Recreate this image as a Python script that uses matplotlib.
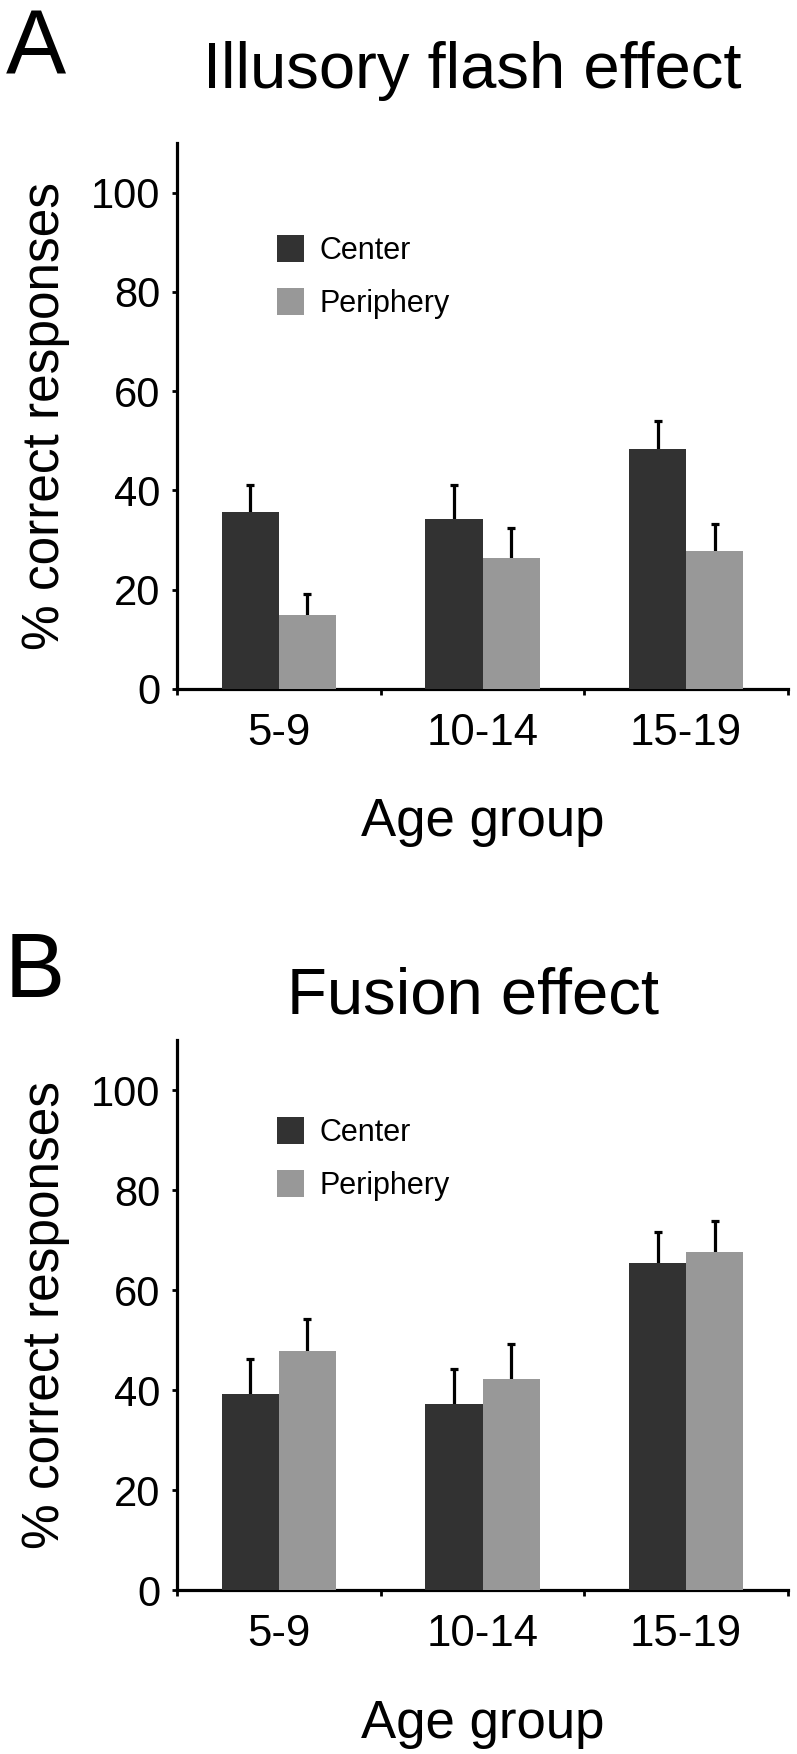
import numpy as np
import matplotlib
matplotlib.use('Agg')
import matplotlib.pyplot as plt

plt.rcParams['font.family'] = ['Liberation Sans', 'DejaVu Sans']

# data (percent correct, mean and upper error)
age_groups = ['5-9', '10-14', '15-19']
series_names = ['Center', 'Periphery']

flash_center = [35.7, 34.2, 48.4]
flash_center_err = [5.4, 6.9, 5.5]
flash_periph = [14.9, 26.3, 27.8]
flash_periph_err = [4.3, 6.2, 5.4]

fusion_center = [39.3, 37.3, 65.5]
fusion_center_err = [7.0, 6.9, 6.2]
fusion_periph = [47.9, 42.3, 67.6]
fusion_periph_err = [6.3, 6.9, 6.2]

DARK = '#323232'
GREY = '#989898'
W, H = 797, 1754


def draw_panel(ax, center, center_err, periph, periph_err, legend_xy):
    x = np.arange(len(age_groups))
    w = 0.28
    b1 = ax.bar(x - w / 2, center, w, color=DARK, linewidth=0, zorder=3)
    b2 = ax.bar(x + w / 2, periph, w, color=GREY, linewidth=0, zorder=3)
    # symmetric errors drawn under the bars -> only the upper half shows
    ax.errorbar(x - w / 2, center, yerr=center_err, fmt='none', ecolor='black',
                elinewidth=2.3, capsize=3, capthick=2.3, zorder=2)
    ax.errorbar(x + w / 2, periph, yerr=periph_err, fmt='none', ecolor='black',
                elinewidth=2.3, capsize=3, capthick=2.3, zorder=2)

    ax.set_xlim(-0.5, 2.5)
    ax.set_ylim(0, 110)
    ax.set_yticks(range(0, 101, 20))
    ax.set_xticks(x)
    ax.set_xticklabels(age_groups)
    ax.set_xticks([-0.5, 0.5, 1.5, 2.5], minor=True)
    ax.tick_params(axis='x', which='major', length=0, pad=17, labelsize=31.5)
    ax.tick_params(axis='x', which='minor', length=4, width=2, direction='out')
    ax.tick_params(axis='y', length=3.6, width=2, pad=8.5, labelsize=30)

    for s in ['top', 'right']:
        ax.spines[s].set_visible(False)
    for s in ['left', 'bottom']:
        ax.spines[s].set_linewidth(2.3)

    ax.set_ylabel('% correct responses', fontsize=37)
    ax.yaxis.set_label_coords(-0.175, 0.5)
    ax.set_xlabel('Age group', fontsize=38)
    ax.xaxis.set_label_coords(0.5, -0.198)

    ax.legend([b1, b2], series_names, loc='upper left', bbox_to_anchor=legend_xy,
              frameon=False, fontsize=22, handlelength=0.88, handleheight=0.98,
              handletextpad=0.52, labelspacing=0.73, borderpad=0, borderaxespad=0)


fig = plt.figure(figsize=(W / 100, H / 100), dpi=100)

axA = fig.add_axes([177 / W, 1 - 689 / H, 611 / W, 546 / H])
draw_panel(axA, flash_center, flash_center_err, flash_periph, flash_periph_err,
           (0.164, 0.832))
axB = fig.add_axes([177 / W, 1 - 1590 / H, 611 / W, 550 / H])
draw_panel(axB, fusion_center, fusion_center_err, fusion_periph, fusion_periph_err,
           (0.164, 0.860))

fig.text(6 / W, 1 - 73 / H, 'A', fontsize=65, va='baseline', ha='left')
fig.text(472 / W, 1 - 88 / H, 'Illusory flash effect', fontsize=47,
         va='baseline', ha='center')
fig.text(5 / W, 1 - 997 / H, 'B', fontsize=65, va='baseline', ha='left')
fig.text(473 / W, 1 - 1013 / H, 'Fusion effect', fontsize=47,
         va='baseline', ha='center')

fig.savefig('out.png', dpi=100)
